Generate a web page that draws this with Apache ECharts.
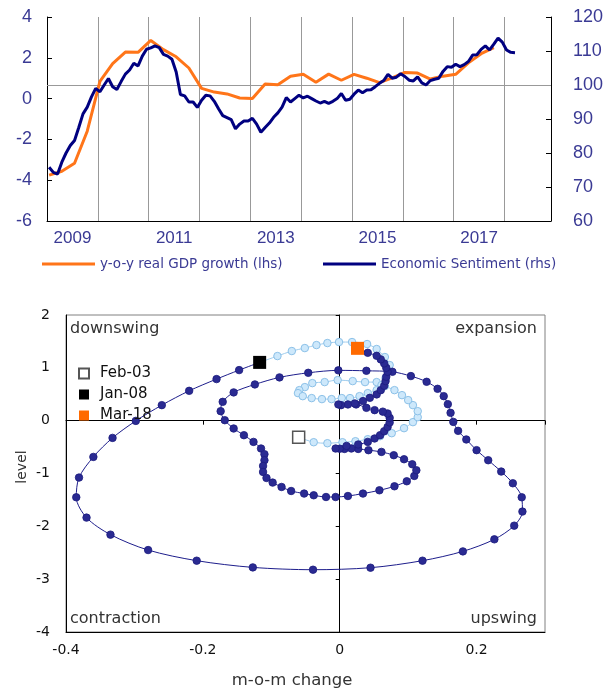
<!DOCTYPE html>
<html><head><meta charset="utf-8">
<script src="https://cdn.jsdelivr.net/npm/echarts@6/dist/echarts.min.js"></script>
<style>html,body{margin:0;padding:0;background:#fff}#c{width:614px;height:688px}</style>
</head><body><div id="c"></div>
<script>
// ---------- top panel data ----------
const months = [];
for (let y = 2009; y <= 2018; y++) for (let m = 1; m <= 12; m++) if (months.length < 119) months.push(y + '-' + (m < 10 ? '0' + m : m));
// y-o-y real GDP growth, quarterly (placed every 3rd month from Jan 2009)
const gdpQuarterly = [-3.75, -3.56, -3.17, -1.6, 0.85, 1.71, 2.28, 2.27, 2.85, 2.4, 2.05, 1.5,
  0.5, 0.32, 0.23, 0.03, 0.0, 0.72, 0.68, 1.1, 1.19, 0.8, 1.2, 0.9,
  1.19, 1.0, 0.78, 1.02, 1.28, 1.25, 0.96, 1.1, 1.19, 1.75, 2.2, 2.5];
// Economic Sentiment, monthly from Jan 2009
const sentiment = [75.8, 74.3, 73.8, 77.3, 80, 82.2, 83.7, 87.5, 91.5, 93.5, 96.5, 99,
  98, 100, 101.9, 99.5, 98.7, 101, 103.2, 104.4, 106.4, 105.6, 108.5, 110.5,
  110.9, 111.5, 111, 109, 108.5, 107.6, 103.8, 97.2, 96.8, 95, 95, 93.4,
  95.5, 97, 96.8, 95.2, 93, 91, 90.4, 89.8, 87.1, 88.5, 89.4, 89.4,
  90.2, 88.5, 86.1, 87.5, 88.8, 90.5, 91.8, 93.5, 96.3, 95, 96, 97,
  96.2, 96.7, 96, 95.3, 94.7, 95.2, 94.6, 95.2, 96, 97.5, 95.5, 95.8,
  97.3, 98.5, 97.7, 98.5, 98.6, 99.5, 100.5, 101.3, 103.1, 102, 102.3, 103.3,
  102.5, 101.4, 101.2, 102.4, 100.6, 100, 101.3, 101.7, 102, 104, 105.4, 105.2,
  106.1, 105.4, 106, 106.9, 108.8, 108.9, 110.5, 111.5, 110.3, 112, 113.8, 112.6,
  110.3, 109.6, 109.5];
const leftTicks = [-6, 4, 2];   // min, max, interval
const rightTicks = [60, 120, 10];

// ---------- bottom panel data ----------
// Feb-03 .. Jan-08 (light)
const lightX = [-0.060,-0.038,-0.018,0.004,0.023,0.041,0.059,0.076,0.094,0.107,0.114,0.114,0.107,0.100,0.091,0.080,0.066,0.054,0.037,0.019,-0.003,-0.022,-0.040,-0.051,-0.059,-0.061,-0.054,-0.041,-0.026,-0.012,0.003,0.015,0.029,0.041,0.054,0.061,0.067,0.072,0.073,0.066,0.054,0.040,0.018,-0.001,-0.018,-0.034,-0.051,-0.070,-0.091,-0.117];
const lightY = [-0.313,-0.408,-0.427,-0.408,-0.389,-0.351,-0.294,-0.237,-0.142,-0.028,0.066,0.180,0.294,0.389,0.483,0.578,0.654,0.730,0.730,0.749,0.768,0.730,0.711,0.635,0.578,0.521,0.464,0.427,0.408,0.408,0.427,0.427,0.464,0.521,0.578,0.673,0.806,0.938,1.052,1.204,1.356,1.450,1.488,1.488,1.469,1.431,1.374,1.318,1.223,1.103];
// Jan-08 .. Mar-18 (dark)
const darkX = [-0.117,-0.147,-0.180,-0.220,-0.260,-0.298,-0.332,-0.360,-0.381,-0.385,
  -0.370,-0.335,-0.280,-0.209,-0.127,-0.039,0.045,0.121,0.180,0.226,
  0.255,0.267,0.266,0.253,0.236,0.217,0.200,0.185,0.173,0.166,
  0.162,0.158,0.152,0.143,0.127,0.104,0.077,0.039,-0.002,-0.046,
  -0.088,-0.124,-0.155,-0.171,-0.174,-0.168,-0.155,-0.140,-0.126,-0.115,
  -0.110,-0.110,-0.112,-0.112,-0.107,-0.098,-0.085,-0.071,-0.052,-0.038,
  -0.020,-0.006,0.012,0.034,0.058,0.080,0.098,0.109,0.112,0.106,
  0.094,0.079,0.061,0.042,0.027,0.017,0.007,0.000,-0.006,0.010,
  0.027,0.041,0.051,0.059,0.065,0.070,0.073,0.073,0.070,0.063,
  0.051,0.039,0.024,0.012,0.002,-0.002,0.022,0.034,0.044,0.054,
  0.060,0.065,0.067,0.068,0.070,0.068,0.065,0.060,0.054,0.041,0.026];
const darkY = [1.103,0.957,0.787,0.565,0.294,-0.004,-0.326,-0.686,-1.077,-1.450,
  -1.835,-2.157,-2.449,-2.650,-2.777,-2.821,-2.783,-2.650,-2.474,-2.246,
  -1.987,-1.721,-1.450,-1.185,-0.963,-0.749,-0.558,-0.356,-0.193,-0.023,
  0.148,0.313,0.464,0.603,0.736,0.844,0.925,0.944,0.952,0.906,
  0.819,0.686,0.535,0.356,0.180,0.009,-0.148,-0.275,-0.402,-0.527,
  -0.635,-0.749,-0.857,-0.971,-1.084,-1.172,-1.255,-1.331,-1.380,-1.412,
  -1.445,-1.445,-1.426,-1.380,-1.318,-1.242,-1.147,-1.046,-0.938,-0.825,
  -0.730,-0.654,-0.591,-0.559,-0.535,-0.527,-0.535,-0.531,-0.527,-0.478,
  -0.451,-0.402,-0.337,-0.275,-0.199,-0.118,-0.034,0.053,0.136,0.171,
  0.199,0.243,0.307,0.307,0.294,0.307,0.326,0.370,0.432,0.497,
  0.578,0.660,0.749,0.830,0.925,1.001,1.084,1.160,1.228,1.285,1.369];
const markerNames = ['Feb-03', 'Jan-08', 'Mar-18'];
const quadrantLabels = ['downswing', 'expansion', 'contraction', 'upswing'];

// ---------- build ----------
const gdpMonthly = months.map((_, i) => (i % 3 === 0 && i / 3 < gdpQuarterly.length) ? gdpQuarterly[i / 3] : null);
const sentMonthly = months.map((_, i) => i < sentiment.length ? sentiment[i] : null);
const lightData = lightX.map((x, i) => [x, lightY[i]]);
const darkData = darkX.map((x, i) => [x, darkY[i]]);
const last = darkX.length - 1;

const BLUE_TXT = '#3a3a94';
const GOTHIC = 'DejaVu Sans';

const chart = echarts.init(document.getElementById('c'), null, {renderer: 'canvas'});
chart.setOption({
  animation: false,
  backgroundColor: '#fff',
  grid: [
    {left: 47, right: 63, top: 17, height: 204},
    {left: 66, right: 69, top: 315, height: 317, show: true, borderColor: '#808080', borderWidth: 1}
  ],
  legend: [
    {data: ['y-o-y real GDP growth (lhs)'], left: 42, top: 257, padding: 0, icon: 'rect', itemWidth: 53, itemHeight: 3,
     textStyle: {fontFamily: GOTHIC, fontSize: 13.5, color: BLUE_TXT}},
    {data: ['Economic Sentiment (rhs)'], left: 323, top: 257, padding: 0, icon: 'rect', itemWidth: 53, itemHeight: 3,
     textStyle: {fontFamily: GOTHIC, fontSize: 13.5, color: BLUE_TXT}},
    {data: markerNames, left: 78, top: 366, padding: 0, orient: 'vertical', icon: 'rect', itemWidth: 10, itemHeight: 10, itemGap: 6,
     textStyle: {fontFamily: 'DejaVu Sans', fontSize: 15, color: '#111', padding: [0, 0, 0, 6]}}
  ],
  xAxis: [
    {type: 'category', gridIndex: 0, data: months, boundaryGap: true,
     axisLine: {show: true, onZero: false, lineStyle: {color: '#000', width: 1}},
     axisTick: {show: false},
     splitLine: {show: true, interval: (i) => i % 12 === 0, lineStyle: {color: '#999', width: 1}},
     axisLabel: {interval: (i, v) => v.slice(5) === '07' && (+v.slice(0, 4)) % 2 === 1,
       formatter: (v) => v.slice(0, 4), margin: 9, padding: [0, 4, 0, 0],
       fontFamily: 'Liberation Sans', fontSize: 17, color: BLUE_TXT}},
    {type: 'value', gridIndex: 1, min: -0.4, max: 0.3, interval: 0.2, position: 'bottom',
     axisLine: {show: true, onZero: false, lineStyle: {color: '#000', width: 1}},
     axisTick: {show: false}, splitLine: {show: false},
     axisLabel: {showMaxLabel: false, margin: 11, fontFamily: 'DejaVu Sans', fontSize: 14, color: '#111',
       formatter: (v) => (Math.round(v * 10) / 10).toString()}},
    {type: 'value', gridIndex: 1, min: -0.4, max: 0.3, interval: 0.2, position: 'top',
     axisLine: {show: true, onZero: true, onZeroAxisIndex: 2, lineStyle: {color: '#000', width: 1}},
     axisTick: {show: true, inside: true, length: 4, lineStyle: {color: '#000'}},
     axisLabel: {show: false}, splitLine: {show: false}}
  ],
  yAxis: [
    {type: 'value', gridIndex: 0, min: leftTicks[0], max: leftTicks[1], interval: leftTicks[2], position: 'left',
     axisLine: {show: true, onZero: false, lineStyle: {color: '#000', width: 1}},
     axisTick: {show: true, inside: true, length: 5, lineStyle: {color: '#000'}},
     splitLine: {show: false},
     axisLabel: {margin: 15, fontFamily: 'Liberation Sans', fontSize: 18, color: BLUE_TXT}},
    {type: 'value', gridIndex: 0, min: rightTicks[0], max: rightTicks[1], interval: rightTicks[2], position: 'right',
     axisLine: {show: true, onZero: false, lineStyle: {color: '#000', width: 1}},
     axisTick: {show: true, inside: true, length: 5, lineStyle: {color: '#000'}},
     splitLine: {show: false},
     axisLabel: {margin: 22, fontFamily: 'Liberation Sans', fontSize: 18, color: BLUE_TXT}},
    {type: 'value', gridIndex: 1, min: -4, max: 2, interval: 1, position: 'left',
     axisLine: {show: true, onZero: false, lineStyle: {color: '#000', width: 1}},
     axisTick: {show: false}, splitLine: {show: false},
     axisLabel: {margin: 16, fontFamily: 'DejaVu Sans', fontSize: 14, color: '#111'}},
    {type: 'value', gridIndex: 1, min: -4, max: 2, interval: 1, position: 'right',
     axisLine: {show: true, onZero: true, onZeroAxisIndex: 1, lineStyle: {color: '#000', width: 1}},
     axisTick: {show: true, inside: true, length: 4, lineStyle: {color: '#000'}},
     axisLabel: {show: false}, splitLine: {show: false}}
  ],
  series: [
    {name: 'y-o-y real GDP growth (lhs)', type: 'line', xAxisIndex: 0, yAxisIndex: 0, data: gdpMonthly, z: 3,
     connectNulls: true, showSymbol: false, symbol: 'none', color: '#ff7519',
     lineStyle: {width: 3, color: '#ff7519'}},
    {name: 'Economic Sentiment (rhs)', type: 'line', xAxisIndex: 0, yAxisIndex: 1, data: sentMonthly, z: 4,
     showSymbol: false, symbol: 'none', color: '#000080',
     lineStyle: {width: 3, color: '#000080'},
     markLine: {silent: true, z: 1, symbol: 'none', label: {show: false}, data: [{yAxis: 100}],
       lineStyle: {color: '#999', width: 1, type: 'solid'}}},
    {name: 'light', type: 'line', xAxisIndex: 1, yAxisIndex: 2, data: lightData, smooth: 0.3,
     symbol: 'circle', symbolSize: 7.5,
     lineStyle: {width: 1, color: '#9fcdee'},
     itemStyle: {color: '#cde8fb', borderColor: '#8cc1e8', borderWidth: 1}},
    {name: 'dark', type: 'line', xAxisIndex: 1, yAxisIndex: 2, data: darkData, smooth: 0.3,
     symbol: 'circle', symbolSize: 7.5,
     lineStyle: {width: 1, color: '#1e1e8c'},
     itemStyle: {color: '#2a2a92', borderColor: '#1c1c7e', borderWidth: 0.8}},
    {name: markerNames[0], type: 'scatter', xAxisIndex: 1, yAxisIndex: 2, symbol: 'rect', symbolSize: 12, z: 5,
     data: [[lightX[0], lightY[0]]], itemStyle: {color: '#fff', borderColor: '#555', borderWidth: 1.5, opacity: 1}},
    {name: markerNames[1], type: 'scatter', xAxisIndex: 1, yAxisIndex: 2, symbol: 'rect', symbolSize: 13, z: 5,
     data: [[darkX[0], darkY[0]]], itemStyle: {color: '#000', opacity: 1}},
    {name: markerNames[2], type: 'scatter', xAxisIndex: 1, yAxisIndex: 2, symbol: 'rect', symbolSize: 13, z: 5,
     data: [[darkX[last], darkY[last]]], itemStyle: {color: '#ff6a00', opacity: 1}}
  ],
  graphic: [
    {type: 'text', x: 70, y: 329, style: {text: quadrantLabels[0], fontFamily: GOTHIC, fontSize: 16, fill: '#333', align: 'left', verticalAlign: 'middle'}},
    {type: 'text', x: 537, y: 329, style: {text: quadrantLabels[1], fontFamily: GOTHIC, fontSize: 16, fill: '#333', align: 'right', verticalAlign: 'middle'}},
    {type: 'text', x: 70, y: 619, style: {text: quadrantLabels[2], fontFamily: GOTHIC, fontSize: 16, fill: '#333', align: 'left', verticalAlign: 'middle'}},
    {type: 'text', x: 537, y: 619, style: {text: quadrantLabels[3], fontFamily: GOTHIC, fontSize: 16, fill: '#333', align: 'right', verticalAlign: 'middle'}},
    {type: 'text', x: 22, y: 467, rotation: Math.PI / 2, style: {text: 'level', fontFamily: GOTHIC, fontSize: 14, fill: '#333', align: 'center', verticalAlign: 'middle'}},
    {type: 'text', x: 292, y: 681, style: {text: 'm-o-m change', fontFamily: GOTHIC, fontSize: 16.5, fill: '#333', align: 'center', verticalAlign: 'middle'}}
  ]
});
</script>
</body></html>
